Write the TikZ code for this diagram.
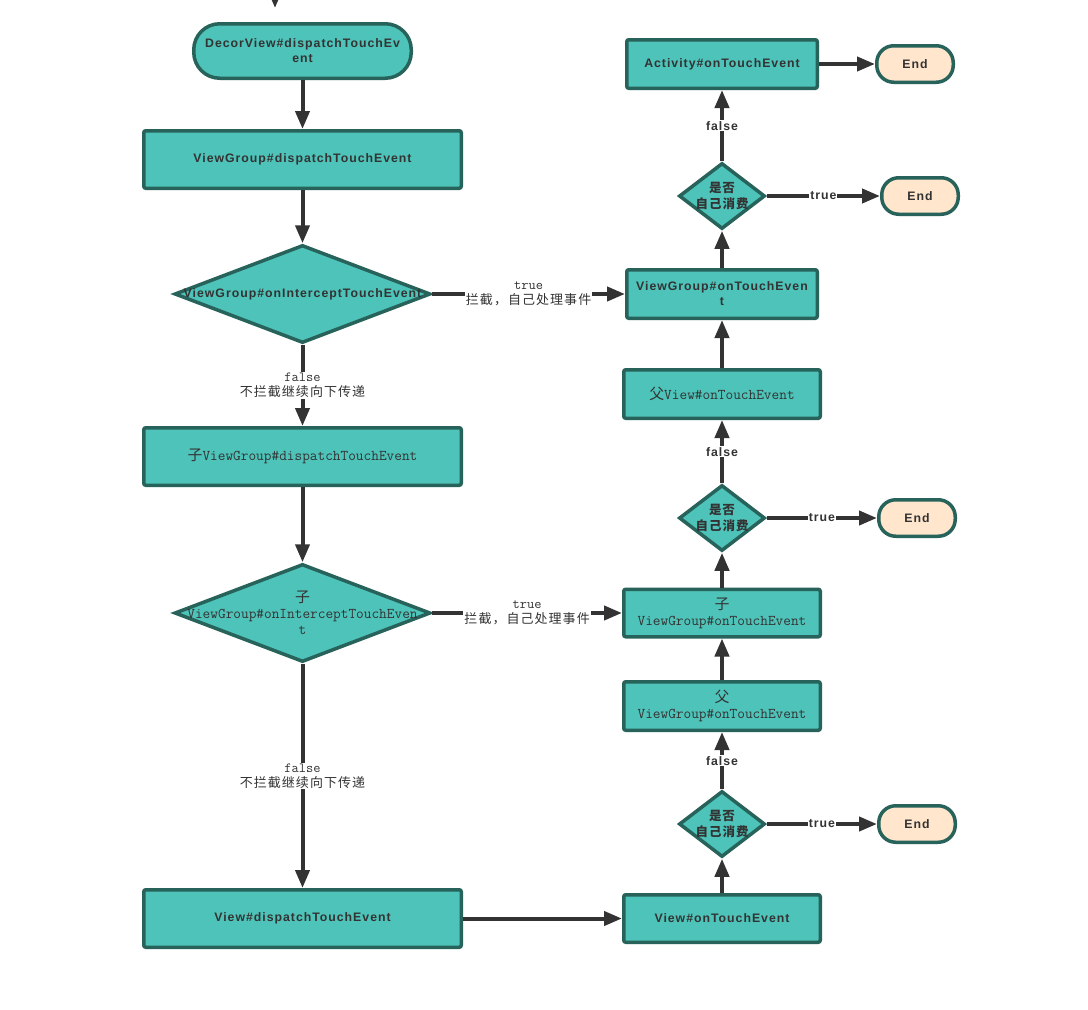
\documentclass[tikz,border=0pt]{standalone}
\usepackage{fontspec}
\setmainfont{Liberation Sans}
\newfontfamily\bsans[LetterSpace=8]{Liberation Sans}
\newfontfamily\cjkf{Noto Sans CJK SC}
\newfontfamily\cjkls[LetterSpace=8]{Noto Sans CJK SC}
\usetikzlibrary{shapes.geometric,arrows.meta}
\definecolor{tealfill}{HTML}{4EC3B9}
\definecolor{tealdark}{HTML}{27635A}
\definecolor{endfill}{HTML}{FFE6CC}
\definecolor{ink}{HTML}{333333}
\tikzset{
  sanstxt/.style={font=\bsans\bfseries\fontsize{12.3}{15}\selectfont, text=ink, align=center},
  monotxt/.style={font=\ttfamily\fontsize{14.9}{16}\selectfont, text=ink, align=center},
  box/.style={draw=tealdark, fill=tealfill, line width=3.5pt, rounded corners=2pt, inner sep=0pt, sanstxt},
  term/.style={rounded corners=26pt},
  endbox/.style={draw=tealdark, fill=endfill, line width=3.5pt, rounded corners=17pt, minimum width=76.5pt, minimum height=36.5pt, inner sep=0pt, sanstxt},
  dia/.style={diamond, draw=tealdark, fill=tealfill, line width=3.5pt, inner sep=0pt},
  diatxt/.style={font=\cjkls\bfseries\fontsize{12.5}{16}\selectfont, text=ink, align=center},
  flow/.style={draw=ink, line width=4pt, -{Triangle[length=18pt,width=14pt]}},
  lbl/.style={sanstxt, fill=white, inner sep=1pt},
  cnlbl/.style={font=\cjkls\fontsize{13}{15}\selectfont, text=ink, align=center, fill=white, inner sep=1pt},
}
\newcommand{\mtxt}[1]{{\ttfamily\fontsize{14}{15}\selectfont #1}}
\begin{document}
\begin{tikzpicture}[x=1pt,y=-1pt]
\useasboundingbox[fill=white] (0,0) rectangle (1088,1010);

% left column
\node[box, term, minimum width=217.5pt, minimum height=54.5pt] (decor) at (302.5,51) {DecorView\#dispatchTouchEv\\ent};
\node[box, minimum width=317.5pt, minimum height=57.5pt] (vgd) at (302.5,159.5) {ViewGroup\#dispatchTouchEvent};
\node[dia, minimum width=256pt, minimum height=98pt] (d1) at (302.5,294) {};
\node[sanstxt] (d1t) at (d1) {ViewGroup\#onInterceptTouchEvent};
\node[box, monotxt, minimum width=317.5pt, minimum height=57.5pt] (zvgd) at (302.5,456.5) {{\cjkf 子}ViewGroup\#dispatchTouchEvent};
\node[dia, minimum width=256pt, minimum height=98pt] (d2) at (302.5,613) {};
\node[monotxt] (d2t) at (d2) {{\cjkf 子}\\ViewGroup\#onInterceptTouchEven\\t};
\node[box, minimum width=317.5pt, minimum height=57.5pt] (vd) at (302.5,918.5) {View\#dispatchTouchEvent};

% right column
\node[box, minimum width=190.5pt, minimum height=48.5pt] (act) at (722,64) {Activity\#onTouchEvent};
\node[endbox] (e1) at (915,64) {End};
\node[dia, minimum width=86pt, minimum height=66pt] (d5) at (722,196) {};
\node[diatxt] (d5t) at (d5) {是否\\自己消费};
\node[endbox] (e5) at (920,196) {End};
\node[box, minimum width=190.5pt, minimum height=48.5pt] (vgon) at (722,294) {ViewGroup\#onTouchEven\\t};
\node[box, monotxt, minimum width=196.5pt, minimum height=48.5pt] (fvon) at (722,394) {{\cjkf 父}View\#onTouchEvent};
\node[dia, minimum width=86pt, minimum height=66pt] (d4) at (722,518) {};
\node[diatxt] (d4t) at (d4) {是否\\自己消费};
\node[endbox] (e4) at (917,518) {End};
\node[box, monotxt, minimum width=196.5pt, minimum height=47.5pt] (zvgon) at (722,613) {{\cjkf 子}\\ViewGroup\#onTouchEvent};
\node[box, monotxt, minimum width=196.5pt, minimum height=48.5pt] (fvgon) at (722,706) {{\cjkf 父}\\ViewGroup\#onTouchEvent};
\node[dia, minimum width=86pt, minimum height=66pt] (d3) at (722,824) {};
\node[diatxt] (d3t) at (d3) {是否\\自己消费};
\node[endbox] (e3) at (917,824) {End};
\node[box, minimum width=196.5pt, minimum height=47.5pt] (von) at (722,918.5) {View\#onTouchEvent};

% incoming arrow at top
\coordinate (topin) at (275,-40);
\coordinate (topend) at (275,8);
\draw[flow] (topin) -- (topend);

% connectors, left
\draw[flow] (decor) -- (vgd);
\draw[flow] (vgd) -- (d1);
\draw[flow] (d1) -- node[cnlbl] {\mtxt{true}\\拦截，自己处理事件} (vgon);
\draw[flow] (d1) -- node[cnlbl] {\mtxt{false}\\不拦截继续向下传递} (zvgd);
\draw[flow] (zvgd) -- (d2);
\draw[flow] (d2) -- node[cnlbl] {\mtxt{true}\\拦截，自己处理事件} (zvgon);
\draw[flow] (d2) -- node[cnlbl] {\mtxt{false}\\不拦截继续向下传递} (vd);
\draw[flow] (vd) -- (von);

% connectors, right
\draw[flow] (von) -- (d3);
\draw[flow] (d3) -- node[lbl] {true} (e3);
\draw[flow] (d3) -- node[lbl] {false} (fvgon);
\draw[flow] (fvgon) -- (zvgon);
\draw[flow] (zvgon) -- (d4);
\draw[flow] (d4) -- node[lbl] {true} (e4);
\draw[flow] (d4) -- node[lbl] {false} (fvon);
\draw[flow] (fvon) -- (vgon);
\draw[flow] (vgon) -- (d5);
\draw[flow] (d5) -- node[lbl] {true} (e5);
\draw[flow] (d5) -- node[lbl] {false} (act);
\draw[flow] (act) -- (e1);
\end{tikzpicture}
\end{document}
